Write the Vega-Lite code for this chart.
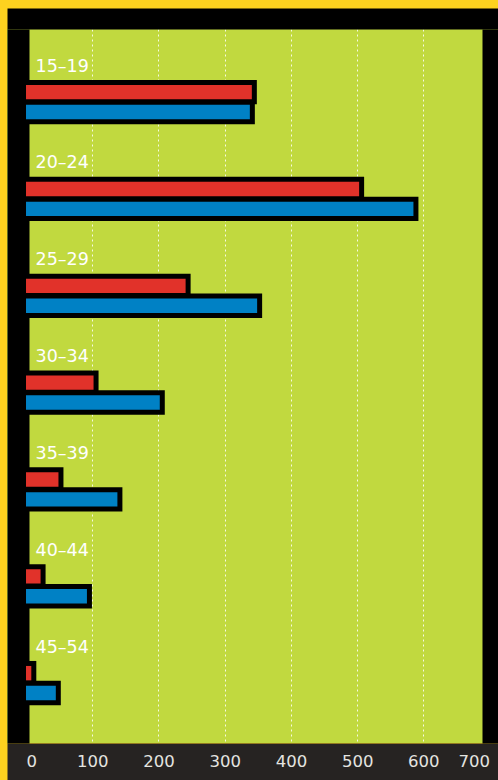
{
  "$schema": "https://vega.github.io/schema/vega-lite/v6.json",
  "width": 491,
  "height": 714,
  "autosize": {"type": "none"},
  "padding": {"left": 7, "top": 29, "right": 0, "bottom": 37},
  "background": "#FDD21F",
  "config": {"view": {"fill": "#C1D93F", "stroke": null}},
  "data": {
    "values": [
      {"age": "15–19", "group": "A", "value": 341},
      {"age": "15–19", "group": "B", "value": 338},
      {"age": "20–24", "group": "A", "value": 503},
      {"age": "20–24", "group": "B", "value": 585},
      {"age": "25–29", "group": "A", "value": 241},
      {"age": "25–29", "group": "B", "value": 349},
      {"age": "30–34", "group": "A", "value": 102},
      {"age": "30–34", "group": "B", "value": 202},
      {"age": "35–39", "group": "A", "value": 49},
      {"age": "35–39", "group": "B", "value": 138},
      {"age": "40–44", "group": "A", "value": 22},
      {"age": "40–44", "group": "B", "value": 92},
      {"age": "45–54", "group": "A", "value": 8},
      {"age": "45–54", "group": "B", "value": 45}
    ]
  },
  "layer": [
    {
      "mark": {"type": "bar", "fill": "#000000", "stroke": "#000000", "strokeWidth": 10, "strokeJoin": "miter"},
      "encoding": {
        "y": {
          "field": "age", "type": "nominal", "sort": null,
          "scale": {"paddingInner": 0.6458, "paddingOuter": 0.5097, "align": 0.567},
          "axis": {
            "orient": "left", "title": null, "ticks": false, "tickSize": 0, "grid": false,
            "domain": true, "domainColor": "#000000", "domainWidth": 22, "offset": -11,
            "labelAlign": "left", "labelPadding": -17, "labelOffset": -35.5, "labelBaseline": "middle",
            "labelColor": "#FFFFFF", "labelFont": "DejaVu Sans", "labelFontSize": 17.5
          }
        },
        "yOffset": {"field": "group", "type": "nominal", "sort": ["A", "B"], "scale": {"paddingInner": 0.276, "paddingOuter": 0}},
        "x": {
          "field": "value", "type": "quantitative", "stack": null,
          "scale": {"domain": [-28.7, 712.7], "nice": false},
          "axis": {
            "orient": "bottom", "title": null, "grid": false, "ticks": false, "labels": false,
            "domain": true, "domainColor": "#262322", "domainWidth": 37, "offset": 18.5
          }
        }
      }
    },
    {
      "transform": [{"filter": "datum.group === 'A'"}],
      "mark": {"type": "bar", "strokeWidth": 0},
      "encoding": {
        "y": {
          "field": "age", "type": "nominal", "sort": null,
          "axis": {
            "orient": "right", "title": null, "ticks": false, "labels": false, "grid": false,
            "domain": true, "domainColor": "#000000", "domainWidth": 16, "offset": -8
          }
        },
        "yOffset": {"field": "group", "type": "nominal", "sort": ["A", "B"]},
        "x": {
          "field": "value", "type": "quantitative", "stack": null,
          "axis": {
            "orient": "top", "title": null, "values": [100, 200, 300, 400, 500, 600],
            "grid": true, "gridColor": "#FFFFFF", "gridDash": [2, 3], "gridWidth": 1, "gridOpacity": 0.85,
            "ticks": false, "labels": false,
            "domain": true, "domainColor": "#000000", "domainWidth": 21, "offset": 10.5
          }
        },
        "color": {
          "field": "group", "type": "nominal",
          "scale": {"domain": ["A", "B"], "range": ["#E1322A", "#0081C5"]},
          "legend": null
        }
      }
    },
    {
      "transform": [{"filter": "datum.group === 'B'"}],
      "mark": {"type": "bar", "strokeWidth": 0},
      "encoding": {
        "y": {"field": "age", "type": "nominal", "sort": null, "axis": null},
        "yOffset": {"field": "group", "type": "nominal", "sort": ["A", "B"]},
        "x": {
          "field": "value", "type": "quantitative", "stack": null,
          "axis": {
            "orient": "bottom", "title": null, "values": [0, 100, 200, 300, 400, 500, 600, 700],
            "grid": false, "ticks": false, "tickSize": 0, "domain": false,
            "offset": 18.5, "labelPadding": 0, "labelBaseline": "middle",
            "labelFlush": 20, "labelFlushOffset": 0,
            "labelColor": "#E4E4E0", "labelFont": "DejaVu Sans", "labelFontSize": 16.5
          }
        },
        "color": {"field": "group", "type": "nominal", "legend": null}
      }
    }
  ],
  "resolve": {"axis": {"x": "independent", "y": "independent"}}
}
